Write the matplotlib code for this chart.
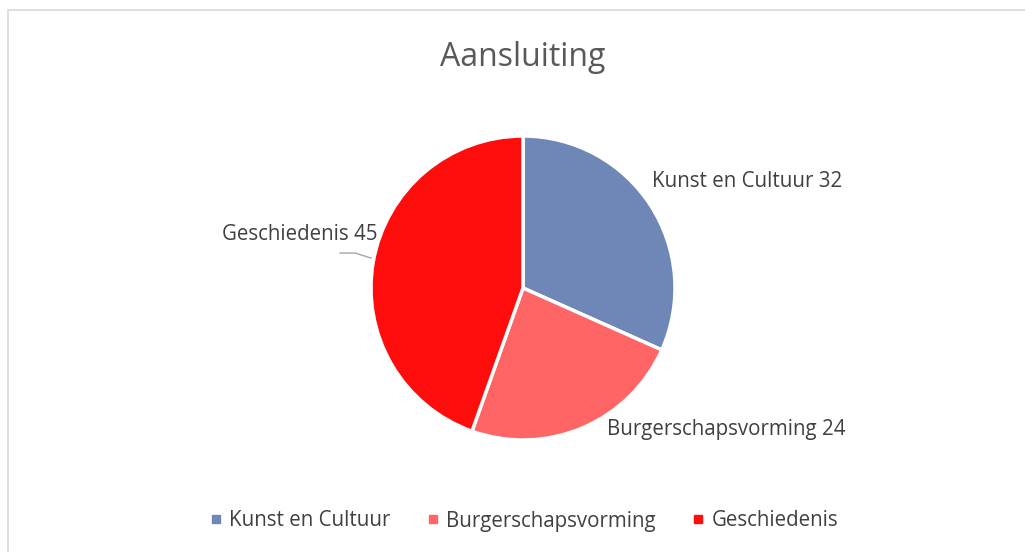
import matplotlib.pyplot as plt
import matplotlib.patches as patch
from matplotlib.lines import Line2D

plt.rcParams['font.family'] = ['Open Sans', 'DejaVu Sans']

categories = ["Kunst en Cultuur", "Burgerschapsvorming", "Geschiedenis"]
values = [32, 24, 45]
colors = ["#6E87B6", "#FF6565", "#FF0C0C"]
title = "Aansluiting"
text_color = "#404040"

fig = plt.figure(figsize=(10.25, 5.52), dpi=100)

# light gray chart border (only top/left visible)
fig.add_artist(patch.Rectangle((8 / 1025, -0.1), 1.2, 1 - 10 / 552 + 0.1,
                               transform=fig.transFigure, fill=False,
                               edgecolor="#D9D9D9", linewidth=1.2))

# axes placed so the pie centre is at (523, 288) px with radius 152 px
ax = fig.add_axes([295 / 1025, 36 / 552, 456 / 1025, 456 / 552])
wedges, _ = ax.pie(values, colors=colors, startangle=90, counterclock=False,
                   radius=1.0,
                   wedgeprops=dict(edgecolor="white", linewidth=2.5))
ax.set_xlim(-1.5, 1.5)
ax.set_ylim(-1.5, 1.5)
ax.set_aspect('auto')
ax.axis('off')

lbl = dict(fontsize=14.8, color=text_color, va="center")
ax.text(0.849, 0.698, f"{categories[0]} {values[0]}", ha="left", **lbl)
ax.text(0.553, -0.934, f"{categories[1]} {values[1]}", ha="left", **lbl)
ax.text(-0.954, 0.349, f"{categories[2]} {values[2]}", ha="right", **lbl)
ax.plot([-1.204, -1.105, -1.0], [0.230, 0.230, 0.197], color="#A6A6A6",
        linewidth=1, clip_on=False)

fig.text(523 / 1025, 1 - 57 / 552, title, ha="center", va="center",
         fontsize=23, color="#595959")

handles = [Line2D([0], [0], marker="s", linestyle="none", markersize=6,
                  markerfacecolor=c, markeredgecolor=c) for c in colors]
fig.legend(handles, categories, loc="center", ncol=3,
           bbox_to_anchor=(524 / 1025, 1 - 521 / 552), frameon=False,
           fontsize=14.8, labelcolor=text_color, columnspacing=1.75,
           handletextpad=0.35, handlelength=0.6)

fig.savefig("out.png", dpi=100, facecolor="white")
